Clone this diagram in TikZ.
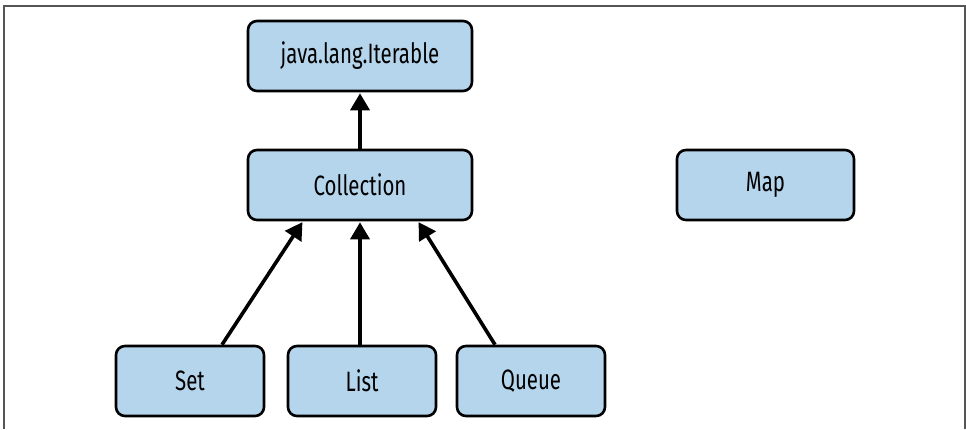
\documentclass[tikz,border=0pt]{standalone}
\usepackage{fontspec}
\setmainfont{Fira Sans}[FakeStretch=0.73]
\usetikzlibrary{arrows.meta}
\definecolor{boxblue}{HTML}{B5D5EC}
\definecolor{framegray}{HTML}{555555}
\tikzset{
  cls/.style={draw=black, line width=2.6pt, fill=boxblue, rounded corners=9pt,
    minimum height=70pt, inner sep=0pt, font=\fontsize{28pt}{32pt}\selectfont},
  inherit/.style={line width=3.6pt, -{Triangle[length=17pt,width=19pt]}, shorten >=1pt}
}
\begin{document}
\begin{tikzpicture}[x=1pt,y=1pt]
  \useasboundingbox (0,0) rectangle (966,429);
  % page frame, open at the bottom
  \draw[framegray, line width=1.2pt] (4,0) -- (4,423) -- (965,423) -- (965,0);

  \node[cls, minimum width=224pt] (iter) at (360,373) {java.lang.Iterable};
  \node[cls, minimum width=224pt] (coll) at (360,244) {Collection};
  \node[cls, minimum width=177pt] (map)  at (765.5,244) {Map};
  \node[cls, minimum width=148pt] (set)  at (190,48) {Set};
  \node[cls, minimum width=148pt] (list) at (362,48) {List};
  \node[cls, minimum width=148pt] (queue) at (531,48) {Queue};

  \draw[inherit] (coll.north) -- (iter.south);
  \draw[inherit] (set.north -| 222,0) -- (coll.south -| 303,0);
  \draw[inherit] (list.north -| 360,0) -- (coll.south -| 360,0);
  \draw[inherit] (queue.north -| 495,0) -- (coll.south -| 418,0);
\end{tikzpicture}
\end{document}
